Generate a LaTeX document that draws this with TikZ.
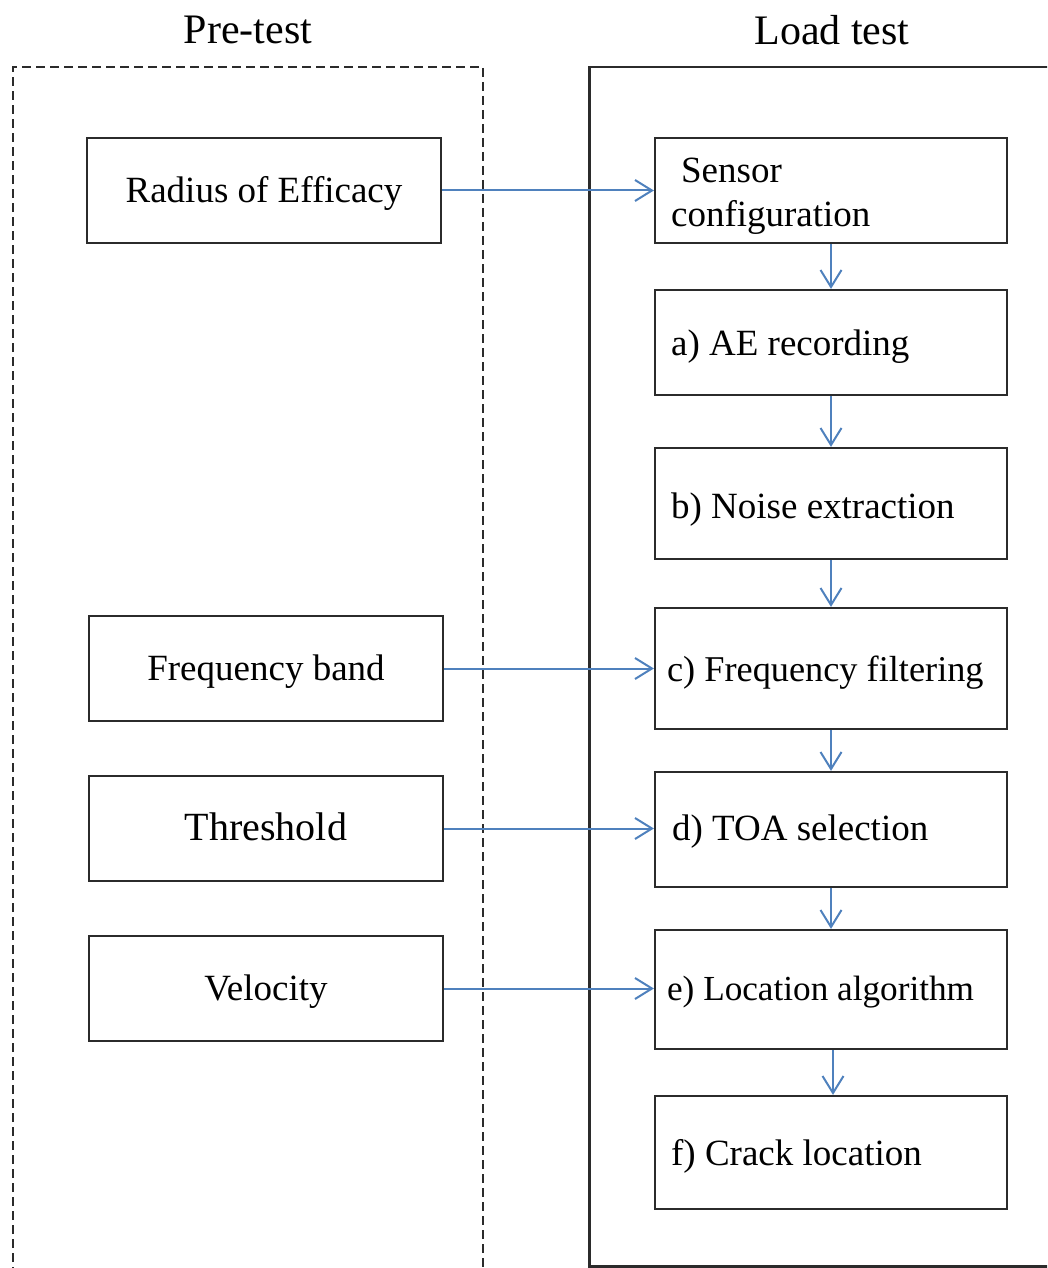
\documentclass[tikz,border=0pt]{standalone}
\usepackage{fontspec}
\setmainfont{Liberation Serif}
\usetikzlibrary{arrows.meta}
\definecolor{arrowblue}{HTML}{4F81BD}
\definecolor{edge}{HTML}{2B2B2B}
\tikzset{
  lbox/.style={draw=edge, line width=2.2pt, minimum width=354pt, minimum height=105pt, inner sep=0pt, align=center, text height=31.5pt, text depth=8pt, font=\fontsize{37}{44}\selectfont},
  rbox/.style={draw=edge, line width=2.2pt, minimum width=352pt, inner sep=0pt},
  lbl/.style={anchor=west, inner sep=0pt, align=left, font=\fontsize{37}{44}\selectfont\frenchspacing},
  flow/.style={draw=arrowblue, line width=2pt, -{Straight Barb[length=17pt,width=21pt,line width=2pt]}},
  title/.style={font=\fontsize{42}{50}\selectfont}
}
\begin{document}
\begin{tikzpicture}[x=1pt,y=-1pt]
\useasboundingbox (0,0) rectangle (1047,1268);
\begin{scope}
\clip (0,0) rectangle (1047,1268);
% group frames
\draw[edge, line width=2pt, dash pattern=on 9pt off 5pt] (13,1290) -- (13,67) -- (483,67) -- (483,1290);
\draw[edge, line width=2.2pt] (1080,1266.5) -- (589.5,1266.5) -- (589.5,67) -- (1080,67);
\end{scope}
% titles
\node[title] (tpre) at (248,30) {Pre-test};
\node[title] (tload) at (832,30) {Load test};
% left boxes
\node[lbox] (roe) at (264,190.5) {Radius of Efficacy};
\node[lbox] (fb) at (266,668.5) {Frequency band};
\node[lbox, font=\fontsize{40}{48}\selectfont] (th) at (266,828.5) {Threshold};
\node[lbox] (vel) at (266,988.5) {Velocity};
% right boxes
\node[rbox, minimum height=105pt] (sc) at (831,190.5) {};
\node[rbox, minimum height=105pt] (ae) at (831,342.5) {};
\node[rbox, minimum height=111pt] (ne) at (831,503.5) {};
\node[rbox, minimum height=121pt] (ff) at (831,668.5) {};
\node[rbox, minimum height=115pt] (toa) at (831,829.5) {};
\node[rbox, minimum height=119pt] (la) at (831,989.5) {};
\node[rbox, minimum height=113pt] (cl) at (831,1152.5) {};
% right box labels
\node[lbl] (sct) at ([xshift=17pt,yshift=-6pt]sc.west) {\hspace{10pt}Sensor\\configuration};
\node[lbl] (aet) at ([xshift=17pt,yshift=-4pt]ae.west) {a) AE recording};
\node[lbl] (net) at ([xshift=17pt,yshift=-6pt]ne.west) {b) Noise extraction};
\node[lbl, font=\fontsize{36.3}{44}\selectfont] (fft) at ([xshift=13pt,yshift=-4pt]ff.west) {c) Frequency filtering};
\node[lbl] (toat) at ([xshift=18pt,yshift=-2pt]toa.west) {d) TOA selection};
\node[lbl, font=\fontsize{35.2}{44}\selectfont] (lat) at ([xshift=13pt,yshift=-3pt]la.west) {e) Location algorithm};
\node[lbl] (clt) at ([xshift=17pt,yshift=-4pt]cl.west) {f) Crack location};
% vertical flow
\draw[flow] (sc.south) -- (ae.north);
\draw[flow] (ae.south) -- (ne.north);
\draw[flow] (ne.south) -- (ff.north);
\draw[flow] (ff.south) -- (toa.north);
\draw[flow] (toa.south) -- (la.north);
\draw[flow] ([xshift=2pt]la.south) -- ([xshift=2pt]cl.north);
% horizontal inputs
\draw[flow] (roe.east) -- (roe.east -| sc.west);
\draw[flow] (fb.east) -- (fb.east -| ff.west);
\draw[flow] (th.east) -- (th.east -| toa.west);
\draw[flow] (vel.east) -- (vel.east -| la.west);
\end{tikzpicture}
\end{document}
